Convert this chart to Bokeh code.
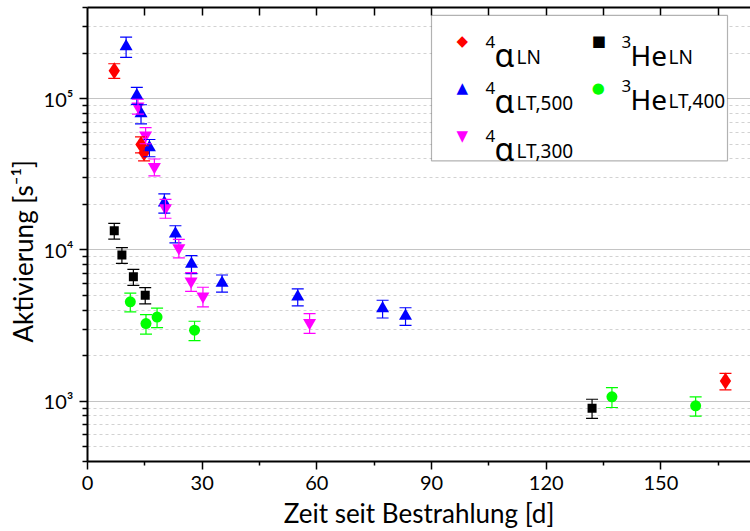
import math
from bokeh.plotting import figure
from bokeh.models import (ColumnDataSource, Whisker, TeeHead, Range1d, FixedTicker,
                          LinearAxis, Label, BoxAnnotation, Title)
from bokeh.embed import file_html
from bokeh.resources import INLINE

# ---------------- data ----------------
aLN_t = [7.0, 14.0, 14.8, 166.9]
aLN_v = [1.53e5, 4.98e4, 4.38e4, 1.36e3]
aLN_e = [1.7e4, 6.0e3, 5.0e3, 1.7e2]

aLT500_t = [10.1, 12.9, 14.0, 16.2, 20.1, 23.0, 27.2, 35.2, 55.0, 77.2, 83.2]
aLT500_v = [2.21e5, 1.05e5, 7.96e4, 4.75e4, 2.05e4, 1.28e4, 8.07e3, 6.05e3, 4.9e3, 4.1e3, 3.66e3]
aLT500_e = [3.4e4, 1.35e4, 1.15e4, 6.2e3, 3.0e3, 1.65e3, 1.1e3, 780, 630, 550, 490]

aLT300_t = [13.2, 15.2, 17.5, 20.4, 23.9, 27.1, 30.2, 58.1]
aLT300_v = [8.9e4, 5.73e4, 3.54e4, 1.89e4, 1.03e4, 6.2e3, 4.94e3, 3.3e3]
aLT300_e = [1.0e4, 7.0e3, 4.5e3, 2.7e3, 1.45e3, 880, 730, 490]

heLN_t = [7.0, 9.0, 12.0, 15.1, 132.0]
heLN_v = [1.34e4, 9.25e3, 6.64e3, 5.02e3, 901]
heLN_e = [1.6e3, 1.1e3, 800, 620, 130]

heLT400_t = [11.2, 15.3, 18.2, 28.0, 137.2, 159.1]
heLT400_v = [4.54e3, 3.26e3, 3.6e3, 2.95e3, 1.07e3, 933]
heLT400_e = [640, 480, 530, 430, 160, 135]

x_major = [0, 30, 60, 90, 120, 150]
x_minor = [15, 45, 75, 105, 135, 165]
y_major = [1e3, 1e4, 1e5]
y_labels = {1000: "10³", 10000: "10⁴", 100000: "10⁵"}

X_END = 173.45
Y_START, Y_END = 400, 4e5

FONT = "Lato"
LFONT = "Noto Sans"

p = figure(width=750, height=531, y_axis_type="log",
           x_range=Range1d(0, X_END), y_range=Range1d(Y_START, Y_END),
           output_backend="svg", toolbar_location=None,
           min_border_left=87, min_border_right=0, min_border_top=7, min_border_bottom=68)
p.outline_line_color = None
p.background_fill_color = "white"

# ticks
y_minor = [m * 10 ** k for k in range(2, 6) for m in range(2, 10) if Y_START <= m * 10 ** k <= Y_END]
yt = FixedTicker(ticks=y_major, minor_ticks=y_minor)
p.yaxis.ticker = yt
p.ygrid.ticker = yt
p.yaxis.major_label_overrides = y_labels
xt = FixedTicker(ticks=x_major, minor_ticks=x_minor)
p.xaxis.ticker = xt

p.xgrid.visible = False
p.ygrid.grid_line_color = "#c4c4c4"
p.ygrid.grid_line_width = 1
p.ygrid.minor_grid_line_color = "#d2d2d2"
p.ygrid.minor_grid_line_dash = "3 3"

for ax in (p.xaxis[0], p.yaxis[0]):
    ax.axis_line_width = 2
    ax.axis_line_color = "black"
    ax.major_tick_line_width = 1.5
    ax.minor_tick_line_width = 1.5
    ax.major_tick_in = 0
    ax.minor_tick_in = 0
    ax.major_label_text_font = FONT
    ax.major_label_text_font_size = "20px"
    ax.major_label_text_color = "black"
    ax.axis_label_text_font = FONT
    ax.axis_label_text_font_size = "26px"
    ax.axis_label_text_font_style = "normal"
    ax.axis_label_text_color = "black"

p.xaxis.major_tick_out = 8
p.xaxis.minor_tick_out = 4
p.xaxis.major_label_standoff = 6
p.xaxis.axis_label = "Zeit seit Bestrahlung [d]"
p.xaxis.axis_label_standoff = 4

p.yaxis.major_tick_out = 8
p.yaxis.minor_tick_out = 5
p.yaxis.major_label_standoff = 6

# y axis title, placed a little below the frame centre like the reference
p.add_layout(Title(text="Aktivierung [s⁻¹]", align="left", offset=119, standoff=4,
                   text_font=FONT, text_font_size="26px", text_font_style="normal",
                   text_color="black"), "left")

top_ticks = x_minor + x_major[1:]
top = LinearAxis(ticker=FixedTicker(ticks=top_ticks, minor_ticks=[]),
                 major_label_overrides={t: "" for t in top_ticks},
                 major_label_text_font_size="1px", major_label_standoff=0,
                 major_tick_in=8, major_tick_out=0, minor_tick_in=0, minor_tick_out=0,
                 axis_line_width=2, major_tick_line_width=1.5)
p.add_layout(top, "above")

series = [
    (aLN_t, aLN_v, aLN_e, "red", "diamond", 17),
    (aLT500_t, aLT500_v, aLT500_e, "blue", "triangle", 13),
    (aLT300_t, aLT300_v, aLT300_e, "magenta", "inverted_triangle", 13),
    (heLN_t, heLN_v, heLN_e, "black", "square", 9),
    (heLT400_t, heLT400_v, heLT400_e, "lime", "circle", 11),
]
for t, v, e, col, mk, sz in series:
    src = ColumnDataSource(dict(t=t, v=v,
                                lo=[a - b for a, b in zip(v, e)],
                                hi=[a + b for a, b in zip(v, e)]))
    w = Whisker(base="t", lower="lo", upper="hi", source=src, dimension="height",
                line_color=col, line_width=1.2,
                upper_head=TeeHead(size=12, line_color=col, line_width=1.2),
                lower_head=TeeHead(size=12, line_color=col, line_width=1.2),
                level="glyph")
    p.add_layout(w)
    p.scatter("t", "v", source=src, marker=mk, size=sz, color=col, line_width=0)

# ---------------- hand-drawn legend (sub/superscripts) ----------------
# layout helpers: picture pixel -> position relative to the frame's top-left corner
FX0, FY0 = 87, 7
PX_PER_DAY = 663 / X_END
PX_PER_DEC = 456 / math.log10(Y_END / Y_START)


def dx(px):
    return (px - FX0) / PX_PER_DAY


def dy(py):
    return 10 ** (math.log10(Y_END) - (py - FY0) / PX_PER_DEC)


def txt(text, px, py, size, color="black", font=LFONT, align="left", baseline="alphabetic"):
    p.add_layout(Label(x=0, y=Y_END, x_offset=px - FX0, y_offset=-(py - FY0), text=text,
                       text_font=font, text_font_size=f"{size}px", text_color=color,
                       text_align=align, text_baseline=baseline))


p.add_layout(BoxAnnotation(left=dx(431), right=dx(727), top=dy(15), bottom=dy(161),
                           fill_color="white", fill_alpha=1, line_color="black",
                           line_width=1.2, level="annotation"))

legend_items = [
    ("◆", "red", "4", "α", "LN", 461.7, 40.7, 485, 54),
    ("▲", "blue", "4", "α", "LT,500", 461.7, 87.3, 485, 100),
    ("▼", "magenta", "4", "α", "LT,300", 461.7, 135, 485, 148),
    ("■", "black", "3", "He", "LN", 598.3, 40.3, 621, 54),
    ("●", "lime", "3", "He", "LT,400", 597.7, 87.3, 621, 98),
]
for sym, col, sup, main, sub, mx, my, tx, base in legend_items:
    txt(sym, mx, my, 15, color=col, font="DejaVu Sans", align="center", baseline="middle")
    txt(sup, tx, base - 13, 17)
    is_alpha = main == "α"
    txt(main, tx + 9, base, 32 if is_alpha else 28)
    txt(sub, tx + 9 + (22 if is_alpha else 38), base + 2, 19)

open("out.html", "w").write(file_html(p, INLINE))
